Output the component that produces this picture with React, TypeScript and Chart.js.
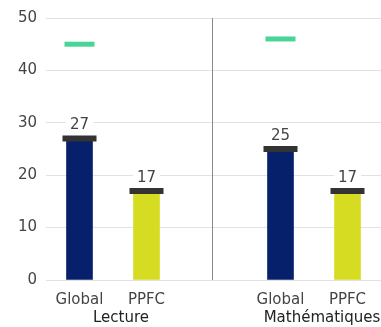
import React, { useEffect, useRef } from "react";
import { Chart, registerables } from "chart.js";

Chart.register(...registerables);

const categories = ["Global", "PPFC", "", "Global", "PPFC"];
const groupLabels = ["Lecture", "Mathématiques"];
const groupIndices = [[0, 1], [3, 4]];
const scores = [27, 17, null, 25, 17];
const targets = [45, null, null, 46, null];
const barColors = ["#07206b", "#d6dc22", "#07206b", "#07206b", "#d6dc22"];
const yTicks = [0, 10, 20, 30, 40, 50];

const FONT = "'DejaVu Sans', 'Open Sans', sans-serif";

const extrasPlugin = {
  id: "extras",
  beforeDatasetsDraw(chart: any) {
    const { ctx, chartArea, scales } = chart;
    const xs = scales.x;
    const sx = Math.round((xs.getPixelForValue(1) + xs.getPixelForValue(3)) / 2) - 1.5;
    ctx.save();
    ctx.strokeStyle = "#8a8a8a";
    ctx.lineWidth = 1;
    ctx.beginPath();
    ctx.moveTo(sx, chartArea.top);
    ctx.lineTo(sx, chartArea.bottom);
    ctx.stroke();
    ctx.restore();
  },
  afterDatasetsDraw(chart: any) {
    const { ctx, scales } = chart;
    const xs = scales.x;
    const ys = scales.y;
    ctx.save();
    ctx.font = `15px ${FONT}`;
    ctx.textAlign = "center";
    ctx.textBaseline = "middle";
    scores.forEach((v, i) => {
      if (v == null) return;
      const x = xs.getPixelForValue(i);
      const y = ys.getPixelForValue(v) - 13;
      const t = String(v);
      const w = ctx.measureText(t).width;
      ctx.fillStyle = "#ffffff";
      ctx.fillRect(x - w / 2 - 4, y - 8, w + 8, 16);
      ctx.fillStyle = "#444444";
      ctx.fillText(t, x, y);
    });
    ctx.font = `15px ${FONT}`;
    ctx.fillStyle = "#222222";
    groupLabels.forEach((g, gi) => {
      const [a, b] = groupIndices[gi];
      const x = (xs.getPixelForValue(a) + xs.getPixelForValue(b)) / 2 + 8;
      ctx.fillText(g, x, xs.bottom - 9);
    });
    ctx.restore();
  },
};

export default function App() {
  const ref = useRef<HTMLCanvasElement>(null);
  useEffect(() => {
    document.body.style.margin = "0";
    const chart = new Chart(ref.current!, {
      type: "bar",
      data: {
        labels: categories,
        datasets: [
          {
            type: "line",
            data: targets as any,
            showLine: false,
            pointStyle: "line",
            pointRadius: 15,
            pointBorderWidth: 5,
            borderColor: "#48d597",
            backgroundColor: "#48d597",
            order: 0,
          } as any,
          {
            type: "line",
            data: scores as any,
            showLine: false,
            pointStyle: "line",
            pointRadius: 17,
            pointBorderWidth: 6,
            borderColor: "#333333",
            backgroundColor: "#333333",
            order: 1,
          } as any,
          {
            type: "bar",
            data: scores as any,
            backgroundColor: barColors,
            barThickness: 26,
            order: 2,
          },
        ],
      },
      options: {
        animation: false,
        responsive: false,
        layout: { autoPadding: false, padding: { top: 18, right: 0, left: 0, bottom: 0 } },
        plugins: { legend: { display: false }, tooltip: { enabled: false } },
        scales: {
          x: {
            grid: { display: false },
            border: { display: false },
            ticks: { color: "#444", font: { size: 15, family: FONT }, padding: 3 },
            afterFit(s: any) {
              s.height = 47;
              s.paddingLeft = 0;
              s.paddingRight = 0;
            },
          },
          y: {
            min: 0,
            max: 50,
            afterBuildTicks(s: any) {
              s.ticks = yTicks.map((v) => ({ value: v }));
            },
            grid: { color: "#e2e2e2", drawTicks: false },
            border: { display: false },
            ticks: { color: "#444", font: { size: 15, family: FONT }, padding: 9 },
            afterFit(s: any) {
              s.width = 46;
              s.paddingTop = 0;
              s.paddingBottom = 0;
            },
          },
        },
      },
      plugins: [extrasPlugin],
    });
    return () => chart.destroy();
  }, []);
  return (
    <div style={{ width: 381, height: 327 }}>
      <canvas ref={ref} width={381} height={327} style={{ display: "block" }} />
    </div>
  );
}
